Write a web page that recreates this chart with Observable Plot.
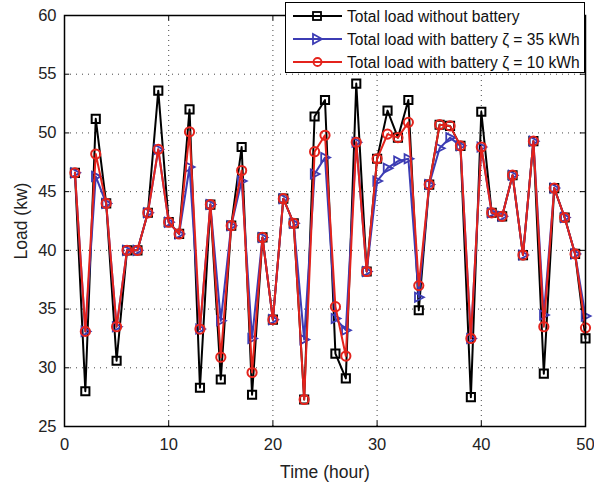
<!DOCTYPE html>
<html>
<head>
<meta charset="utf-8">
<script src="https://cdn.jsdelivr.net/npm/d3@7"></script>
<script src="https://cdn.jsdelivr.net/npm/@observablehq/plot@0.6"></script>
<style>
  body { margin: 0; background: #fff; }
  #wrap { position: relative; width: 594px; height: 487px; font-family: "Liberation Sans", Arial, Helvetica, sans-serif; }
  #legend { position: absolute; left: 285px; top: 2px; width: 300px; height: 71px; border: 1px solid #000; background: #fff; box-sizing: border-box; }
  #legend svg { position: absolute; left: 0; top: 0; }
</style>
</head>
<body>
<div id="wrap"><div id="legend"></div></div>
<script>
const hours = [1,2,3,4,5,6,7,8,9,10,11,12,13,14,15,16,17,18,19,20,21,22,23,24,25,26,27,28,29,30,31,32,33,34,35,36,37,38,39,40,41,42,43,44,45,46,47,48,49,50];
const loadNoBattery = [46.6,28.0,51.2,44.0,30.6,40.0,40.0,43.2,53.6,42.4,41.4,52.0,28.3,43.9,29.0,42.1,48.8,27.7,41.1,34.1,44.4,42.3,27.3,51.4,52.8,31.2,29.1,54.2,38.2,47.8,51.9,49.6,52.8,34.9,45.6,50.7,50.6,48.9,27.5,51.8,43.2,42.9,46.4,39.6,49.3,29.5,45.3,42.8,39.7,32.5];
const loadBattery35 = [46.6,33.1,46.3,44.0,33.5,40.0,40.0,43.2,48.6,42.4,41.4,47.1,33.3,43.9,34.0,42.1,45.9,32.5,41.1,34.1,44.4,42.3,32.4,46.5,47.9,34.2,33.2,49.2,38.2,45.9,47.0,47.6,47.8,36.0,45.6,48.7,49.6,48.9,32.5,48.8,43.2,42.9,46.4,39.6,49.3,34.5,45.3,42.8,39.7,34.4];
const loadBattery10 = [46.6,33.1,48.2,44.0,33.5,40.0,40.0,43.2,48.6,42.4,41.4,50.1,33.3,43.9,30.9,42.1,46.8,29.6,41.1,34.1,44.4,42.3,27.3,48.4,49.8,35.2,31.0,49.2,38.2,47.8,49.9,49.6,50.9,37.0,45.6,50.7,50.6,48.9,32.5,48.8,43.2,42.9,46.4,39.6,49.3,33.5,45.3,42.8,39.7,33.4];
const seriesNames = ["Total load without battery", "Total load with battery \u03b6 = 35 kWh", "Total load with battery \u03b6 = 10 kWh"];
const xTicks = [0,10,20,30,40,50];
const yTicks = [25,30,35,40,45,50,55,60];

const BLACK = "#000000", BLUE = "#3c3cb4", RED = "#e4231c";

const triangleRight = {
  draw(context, size) {
    const s = Math.sqrt(size) * 0.62;
    context.moveTo(s, 0);
    context.lineTo(-s * 0.75, -s * 0.9);
    context.lineTo(-s * 0.75, s * 0.9);
    context.closePath();
  }
};

const rows = s => hours.map((h, i) => ({t: h, v: s[i]}));
const dNo = rows(loadNoBattery), d35 = rows(loadBattery35), d10 = rows(loadBattery10);

const chart = Plot.plot({
  width: 594,
  height: 487,
  marginLeft: 64,
  marginRight: 9,
  marginTop: 15,
  marginBottom: 61,
  style: {fontFamily: '"Liberation Sans", Arial, Helvetica, sans-serif', fontSize: "16.5px", color: "#222", background: "#fff"},
  x: {domain: [0, 50], ticks: xTicks},
  y: {domain: [25, 60], ticks: yTicks},
  marks: [
    Plot.gridX(xTicks, {stroke: "#333", strokeOpacity: 0.9, strokeDasharray: "1,4"}),
    Plot.gridY(yTicks, {stroke: "#333", strokeOpacity: 0.9, strokeDasharray: "1,5"}),
    Plot.axisX(xTicks, {tickSize: 0, tickPadding: 12, fontSize: 16.5, label: null}),
    Plot.axisX({tickSize: 0, ticks: [], label: "Time (hour)", labelAnchor: "center", labelArrow: "none", labelOffset: 51, fontSize: 17.5}),
    Plot.axisY(yTicks, {tickSize: 0, tickPadding: 8, fontSize: 16.5, label: null}),
    Plot.axisY({tickSize: 0, ticks: [], label: "Load (kw)", labelAnchor: "center", labelArrow: "none", labelOffset: 50, fontSize: 17.5}),
    Plot.ruleX(xTicks, {y1: 25, y2: 25.45, stroke: "#000"}),
    Plot.ruleX(xTicks, {y1: 60, y2: 59.55, stroke: "#000"}),
    Plot.ruleY(yTicks, {x1: 0, x2: 0.5, stroke: "#000"}),
    Plot.ruleY(yTicks, {x1: 50, x2: 49.5, stroke: "#000"}),
    Plot.line(dNo, {x: "t", y: "v", stroke: BLACK, strokeWidth: 2}),
    Plot.dot(dNo, {x: "t", y: "v", symbol: "square", r: 4.6, stroke: BLACK, strokeWidth: 2, fill: "none"}),
    Plot.line(d35, {x: "t", y: "v", stroke: BLUE, strokeWidth: 2}),
    Plot.dot(d35, {x: "t", y: "v", symbol: triangleRight, r: 4.6, stroke: BLUE, strokeWidth: 1.8, fill: "none"}),
    Plot.line(d10, {x: "t", y: "v", stroke: RED, strokeWidth: 2}),
    Plot.dot(d10, {x: "t", y: "v", symbol: "circle", r: 4.6, stroke: RED, strokeWidth: 2, fill: "none"}),
    Plot.frame({stroke: "#000", strokeWidth: 1.5})
  ]
});
document.getElementById("wrap").prepend(chart);
chart.style.position = "absolute";
chart.style.left = "0px";
chart.style.top = "0px";

// Legend
const legend = document.getElementById("legend");
const colors = [BLACK, BLUE, RED];
const ns = "http://www.w3.org/2000/svg";
const svg = document.createElementNS(ns, "svg");
svg.setAttribute("width", 298);
svg.setAttribute("height", 69);
const rowY = [13, 36, 59];
seriesNames.forEach((name, i) => {
  const y = rowY[i];
  const line = document.createElementNS(ns, "line");
  line.setAttribute("x1", 7); line.setAttribute("x2", 56);
  line.setAttribute("y1", y); line.setAttribute("y2", y);
  line.setAttribute("stroke", colors[i]); line.setAttribute("stroke-width", 2);
  svg.appendChild(line);
  let m;
  if (i === 0) {
    m = document.createElementNS(ns, "rect");
    m.setAttribute("x", 27); m.setAttribute("y", y - 4); m.setAttribute("width", 8); m.setAttribute("height", 8);
  } else if (i === 1) {
    m = document.createElementNS(ns, "path");
    m.setAttribute("d", `M${36},${y} L${27},${y - 5} L${27},${y + 5} Z`);
  } else {
    m = document.createElementNS(ns, "circle");
    m.setAttribute("cx", 31.5); m.setAttribute("cy", y); m.setAttribute("r", 4);
  }
  m.setAttribute("fill", "none"); m.setAttribute("stroke", colors[i]); m.setAttribute("stroke-width", 1.8);
  svg.appendChild(m);
  const t = document.createElementNS(ns, "text");
  t.setAttribute("x", 61); t.setAttribute("y", y + 5.5);
  t.setAttribute("font-size", 15.6);
  t.setAttribute("fill", "#111");
  t.setAttribute("font-family", '"Liberation Sans", Arial, Helvetica, sans-serif');
  t.textContent = name;
  svg.appendChild(t);
});
legend.appendChild(svg);
</script>
</body>
</html>
